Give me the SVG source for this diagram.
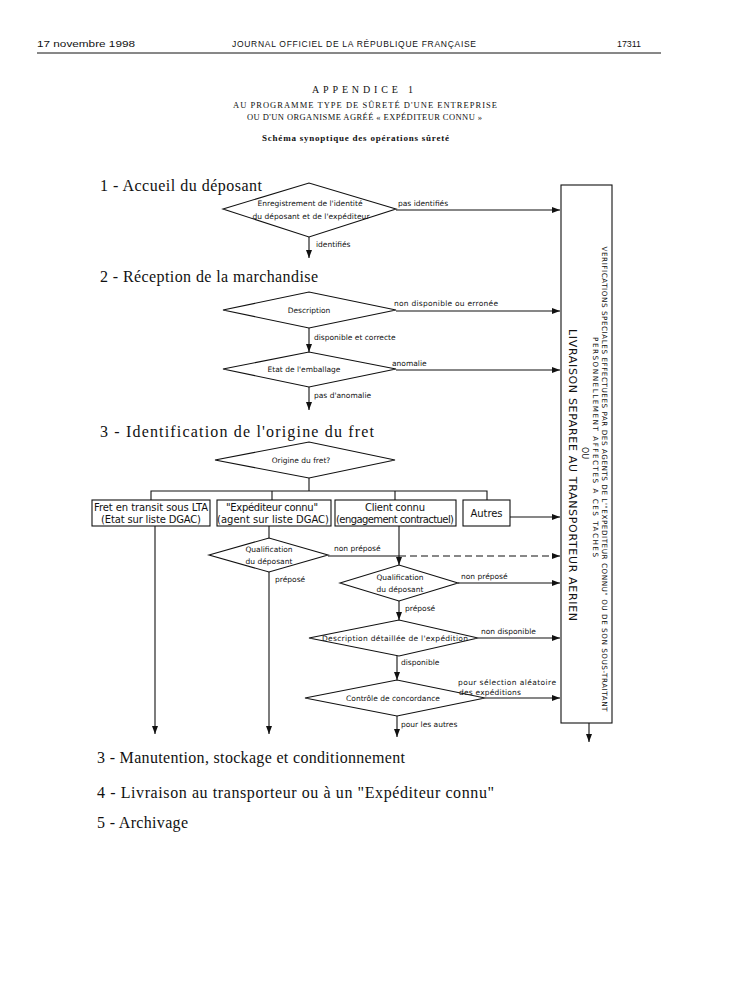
<svg xmlns="http://www.w3.org/2000/svg" width="731" height="990" viewBox="0 0 731 990">
<style>
.hdr{font-family:"Liberation Sans",Arial,sans-serif;font-size:8.5px;fill:#111}
.ttl{font-family:"Liberation Serif","Times New Roman",serif;fill:#111}
.sec{font-family:"Liberation Serif","Times New Roman",serif;font-size:16px;fill:#111}
.lbl{font-family:"DejaVu Sans","Liberation Sans",sans-serif;font-size:7.5px;fill:#111}
.box{font-family:"DejaVu Sans","Liberation Sans",sans-serif;font-size:10px;fill:#111}
.shape{fill:#fff;stroke:#111;stroke-width:1.1}
.ln{fill:none;stroke:#111;stroke-width:1.1}
.dash{fill:none;stroke:#111;stroke-width:1.1;stroke-dasharray:7,4}
.vt{font-family:"DejaVu Sans","Liberation Sans",sans-serif;fill:#111}
</style>
<defs>
<marker id="ah" markerWidth="8" markerHeight="6" refX="8" refY="3" orient="auto" markerUnits="userSpaceOnUse">
<path d="M0,0 L8,3 L0,6 z" fill="#111"/>
</marker>
</defs>
<rect width="731" height="990" fill="#fff"/>

<g id="header">
<text class="hdr" x="37" y="47" font-size="9.5" textLength="98" lengthAdjust="spacingAndGlyphs">17 novembre 1998</text>
<text class="hdr" x="232" y="47" textLength="244">JOURNAL OFFICIEL DE LA RÉPUBLIQUE FRANÇAISE</text>
<text class="hdr" x="617" y="47" font-size="9.5" textLength="24" lengthAdjust="spacingAndGlyphs">17311</text>
<line x1="37" y1="53" x2="661" y2="53" stroke="#111" stroke-width="1"/>
</g>

<g id="title">
<text class="ttl" x="312" y="93" font-size="10" textLength="101">APPENDICE 1</text>
<text class="ttl" x="233" y="108" font-size="8.5" textLength="264">AU PROGRAMME TYPE DE SÛRETÉ D'UNE ENTREPRISE</text>
<text class="ttl" x="247" y="120" font-size="8.5" textLength="235">OU D'UN ORGANISME AGRÉÉ « EXPÉDITEUR CONNU »</text>
<text class="ttl" x="262" y="141" font-size="9" font-weight="bold" textLength="187">Schéma synoptique des opérations sûreté</text>
</g>

<g id="headings">
<text class="sec" x="100" y="191" textLength="162">1 - Accueil du déposant</text>
<text class="sec" x="100" y="282" textLength="218">2 - Réception de la marchandise</text>
<text class="sec" x="100" y="437" textLength="274">3 - Identification de l'origine du fret</text>
<text class="sec" x="97" y="763" textLength="308">3 - Manutention, stockage et conditionnement</text>
<text class="sec" x="97" y="798" textLength="397">4 - Livraison au transporteur ou à un "Expéditeur connu"</text>
<text class="sec" x="97" y="828" textLength="91">5 - Archivage</text>
</g>

<g id="n-enregistrement">
<polygon class="shape" points="223,209 309,183 396,209 309,237"/>
<text class="lbl" x="310" y="206" text-anchor="middle" textLength="105">Enregistrement de l'identité</text>
<text class="lbl" x="311" y="219" text-anchor="middle" textLength="117">du déposant et de l'expéditeur</text>
</g>

<g id="n-description">
<polygon class="shape" points="223,310 309,292 396,310 309,328"/>
<text class="lbl" x="309" y="313" text-anchor="middle">Description</text>
</g>

<g id="n-emballage">
<polygon class="shape" points="223,369 309,352 396,369 309,387"/>
<text class="lbl" x="304" y="372" text-anchor="middle">Etat de l'emballage</text>
</g>

<g id="n-origine">
<polygon class="shape" points="215,460 309,442 395,460 309,478"/>
<text class="lbl" x="301" y="463" text-anchor="middle">Origine du fret?</text>
</g>

<g id="n-transit">
<rect class="shape" x="92" y="500" width="118" height="26"/>
<text class="box" x="151" y="511" text-anchor="middle" textLength="114">Fret en transit sous LTA</text>
<text class="box" x="151" y="523" text-anchor="middle" textLength="100">(Etat sur liste DGAC)</text>
</g>

<g id="n-expediteur">
<rect class="shape" x="217" y="500" width="114" height="26"/>
<text class="box" x="272" y="511" text-anchor="middle" textLength="92">"Expéditeur connu"</text>
<text class="box" x="273" y="523" text-anchor="middle" textLength="112">(agent sur liste DGAC)</text>
</g>

<g id="n-client">
<rect class="shape" x="335" y="500" width="121" height="26"/>
<text class="box" x="395" y="511" text-anchor="middle" textLength="60">Client connu</text>
<text class="box" x="395" y="523" text-anchor="middle" textLength="118">(engagement contractuel)</text>
</g>

<g id="n-autres">
<rect class="shape" x="463" y="500" width="47" height="26"/>
<text class="box" x="486.5" y="517" text-anchor="middle" textLength="32">Autres</text>
</g>

<g id="n-qualif1">
<polygon class="shape" points="209,555 269,538 328,555 269,572"/>
<text class="lbl" x="269" y="552" text-anchor="middle">Qualification</text>
<text class="lbl" x="269" y="564" text-anchor="middle">du déposant</text>
</g>

<g id="n-qualif2">
<polygon class="shape" points="340,583 399,565 458,583 399,601"/>
<text class="lbl" x="400" y="580" text-anchor="middle">Qualification</text>
<text class="lbl" x="400" y="592" text-anchor="middle">du déposant</text>
</g>

<g id="n-detail">
<polygon class="shape" points="309,638 399,620 478,638 399,656"/>
<text class="lbl" x="395" y="641" text-anchor="middle" textLength="146">Description détaillée de l'expédition</text>
</g>

<g id="n-controle">
<polygon class="shape" points="305,698 397,680 485,698 397,716"/>
<text class="lbl" x="393" y="701" text-anchor="middle">Contrôle de concordance</text>
</g>

<g id="n-verif">
<rect class="shape" x="561" y="185" width="51" height="538"/>
<g transform="translate(601.5,479) rotate(90)">
<text class="vt" x="0" y="0" font-size="7.2" text-anchor="middle" textLength="465">VERIFICATIONS SPECIALES EFFECTUEES PAR DES AGENTS DE L'"EXPEDITEUR CONNU" OU DE SON SOUS-TRAITANT</text>
</g>
<g transform="translate(592.5,447) rotate(90)">
<text class="vt" x="0" y="0" font-size="7.2" text-anchor="middle" textLength="220">PERSONNELLEMENT AFFECTES A CES TACHES</text>
</g>
<g transform="translate(582,453) rotate(90)">
<text class="vt" x="0" y="0" font-size="8" text-anchor="middle">OU</text>
</g>
<g transform="translate(569,475) rotate(90)">
<text class="vt" x="0" y="0" font-size="11" text-anchor="middle" textLength="292">LIVRAISON SEPAREE AU TRANSPORTEUR AERIEN</text>
</g>
</g>

<g id="connectors">
<line class="ln" x1="396" y1="210" x2="560" y2="210" marker-end="url(#ah)"/>
<text class="lbl" x="398" y="206">pas identifiés</text>
<line class="ln" x1="309" y1="237" x2="309" y2="258" marker-end="url(#ah)"/>
<text class="lbl" x="316" y="247">identifiés</text>

<line class="ln" x1="396" y1="311" x2="560" y2="311" marker-end="url(#ah)"/>
<text class="lbl" x="394" y="306" textLength="104">non disponible ou erronée</text>
<line class="ln" x1="309" y1="328" x2="309" y2="352" marker-end="url(#ah)"/>
<text class="lbl" x="314" y="340">disponible et correcte</text>

<line class="ln" x1="396" y1="370" x2="560" y2="370" marker-end="url(#ah)"/>
<text class="lbl" x="392" y="366">anomalie</text>
<line class="ln" x1="309" y1="387" x2="309" y2="410" marker-end="url(#ah)"/>
<text class="lbl" x="314" y="398">pas d'anomalie</text>

<polyline class="ln" points="309,478 309,491"/>
<polyline class="ln" points="151,500 151,491 487,491 487,500"/>
<line class="ln" x1="272" y1="491" x2="272" y2="500"/>
<line class="ln" x1="395" y1="491" x2="395" y2="500"/>

<line class="ln" x1="510" y1="517" x2="560" y2="517" marker-end="url(#ah)"/>

<line class="ln" x1="155" y1="526" x2="155" y2="734" marker-end="url(#ah)"/>
<line class="ln" x1="269" y1="526" x2="269" y2="538"/>
<line class="ln" x1="269" y1="572" x2="269" y2="734" marker-end="url(#ah)"/>
<text class="lbl" x="275" y="582">préposé</text>

<line class="ln" x1="328" y1="556" x2="399" y2="556"/>
<line class="dash" x1="399" y1="556" x2="560" y2="556" marker-end="url(#ah)"/>
<text class="lbl" x="334" y="551">non préposé</text>

<line class="ln" x1="399" y1="526" x2="399" y2="565" marker-end="url(#ah)"/>
<line class="ln" x1="458" y1="583" x2="560" y2="583" marker-end="url(#ah)"/>
<text class="lbl" x="461" y="579">non préposé</text>
<line class="ln" x1="399" y1="601" x2="399" y2="620" marker-end="url(#ah)"/>
<text class="lbl" x="405" y="611">préposé</text>

<line class="ln" x1="478" y1="638" x2="560" y2="638" marker-end="url(#ah)"/>
<text class="lbl" x="481" y="634">non disponible</text>
<line class="ln" x1="397" y1="656" x2="397" y2="680" marker-end="url(#ah)"/>
<text class="lbl" x="401" y="665">disponible</text>

<line class="ln" x1="485" y1="698" x2="560" y2="698" marker-end="url(#ah)"/>
<text class="lbl" x="458" y="685" textLength="98">pour sélection aléatoire</text>
<text class="lbl" x="459" y="695" textLength="62">des expéditions</text>
<line class="ln" x1="397" y1="716" x2="397" y2="737" marker-end="url(#ah)"/>
<text class="lbl" x="401" y="727">pour les autres</text>

<line class="ln" x1="589" y1="723" x2="589" y2="742" marker-end="url(#ah)"/>
</g>
</svg>
